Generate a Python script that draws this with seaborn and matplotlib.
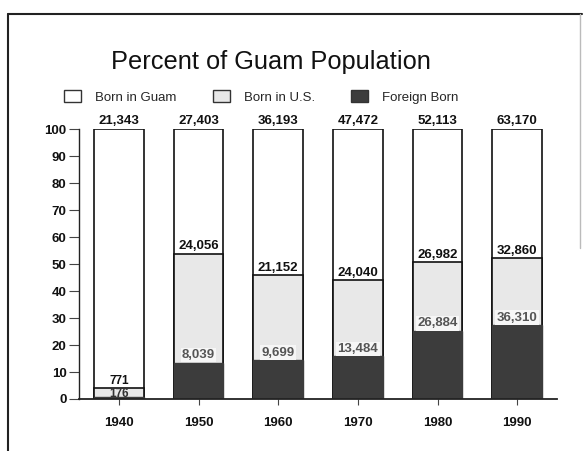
import matplotlib
matplotlib.use("Agg")
import matplotlib.pyplot as plt
from matplotlib.patches import Patch
from matplotlib.lines import Line2D
import numpy as np
import pandas as pd
import seaborn as sns

# Census counts for Guam by place of birth
years = ["1940", "1950", "1960", "1970", "1980", "1990"]
born_guam = [21343, 27403, 36193, 47472, 52113, 63170]
born_us = [771, 24056, 21152, 24040, 26982, 32860]
foreign_born = [176, 8039, 9699, 13484, 26884, 36310]
series_names = ["Born in Guam", "Born in U.S.", "Foreign Born"]
y_ticks = [0, 10, 20, 30, 40, 50, 60, 70, 80, 90, 100]

guam = np.array(born_guam, dtype=float)
us = np.array(born_us, dtype=float)
foreign = np.array(foreign_born, dtype=float)
total = guam + us + foreign
pct_foreign = foreign / total * 100
pct_us_cum = (us + foreign) / total * 100
pct_all = (guam + us + foreign) / total * 100

df = pd.DataFrame({"year": years, "all": pct_all, "us_cum": pct_us_cum,
                   "foreign": pct_foreign})

sns.set_theme(style="white")
plt.rcParams["font.family"] = ["Liberation Sans", "DejaVu Sans"]

fig = plt.figure(figsize=(5.84, 4.51), dpi=100)
ax = fig.add_axes([0.1353, 0.1153, 0.8185, 0.598])

fill_guam = "#ffffff"
fill_us = "#e8e8e8"
fill_foreign = "#3c3c3c"
bar_w = 0.62

sns.barplot(data=df, x="year", y="all", color=fill_guam, width=bar_w,
            edgecolor="#111111", linewidth=1.2, saturation=1, ax=ax)
sns.barplot(data=df, x="year", y="us_cum", color=fill_us, width=bar_w,
            edgecolor="#111111", linewidth=1.2, saturation=1, ax=ax)
sns.barplot(data=df, x="year", y="foreign", color=fill_foreign, width=bar_w,
            edgecolor="#3c3c3c", linewidth=1.0, saturation=1, ax=ax)

ax.set_ylim(0, 100)
ax.set_xlim(-0.5, 5.5)
ax.set_yticks(y_ticks)
ax.set_xlabel("")
ax.set_ylabel("")
for s in ["top", "right"]:
    ax.spines[s].set_visible(False)
ax.spines["left"].set_color("#222222")
ax.spines["left"].set_linewidth(1.0)
ax.spines["bottom"].set_color("#222222")
ax.spines["bottom"].set_linewidth(1.3)
ax.tick_params(axis="y", direction="out", length=7, width=0.8, color="#444444",
               pad=2, labelsize=9.5, labelcolor="#111111", left=True)
ax.tick_params(axis="x", direction="out", length=4, width=0.8, color="#444444",
               pad=9, labelsize=9.5, labelcolor="#111111", bottom=True)
for lbl in ax.get_yticklabels() + ax.get_xticklabels():
    lbl.set_fontweight("bold")

# Count labels on each segment boundary
for i in range(len(years)):
    ax.annotate(f"{born_guam[i]:,}", (i, pct_all[i]), xytext=(0, 2),
                textcoords="offset points", ha="center", va="bottom",
                fontsize=9.5, fontweight="bold", color="#111111",
                annotation_clip=False)
    if i == 0:
        # thin first bar: stack the two small counts around the boundary line
        ax.annotate(f"{born_us[i]:,}", (i, pct_us_cum[i]), xytext=(0, 0.5),
                    textcoords="offset points", ha="center", va="bottom",
                    fontsize=8.5, fontweight="bold", color="#111111")
        ax.annotate(f"{foreign_born[i]:,}", (i, pct_us_cum[i]),
                    xytext=(0, -0.5), textcoords="offset points", ha="center",
                    va="top", fontsize=8.5, fontweight="bold",
                    color="#333333")
        continue
    ax.annotate(f"{born_us[i]:,}", (i, pct_us_cum[i]), xytext=(0, 1),
                textcoords="offset points", ha="center", va="bottom",
                fontsize=9.5, fontweight="bold", color="#111111")
    ax.annotate(f"{foreign_born[i]:,}", (i, pct_foreign[i]), xytext=(0, 1),
                textcoords="offset points", ha="center", va="bottom",
                fontsize=9.5, fontweight="bold", color="#555555",
                bbox=dict(boxstyle="square,pad=0.1", facecolor="#f6f6f6",
                          edgecolor="none"))

fig.text(0.464, 0.862, "Percent of Guam Population", ha="center", va="center",
         fontsize=18.3, color="#111111")

handles = [Patch(facecolor=fill_guam, edgecolor="#333333", linewidth=1.0),
           Patch(facecolor=fill_us, edgecolor="#333333", linewidth=1.0),
           Patch(facecolor=fill_foreign, edgecolor="#333333", linewidth=1.0)]
fig.legend(handles, series_names, loc="center", bbox_to_anchor=(0.448, 0.785),
           ncol=3, frameon=False, fontsize=9.5, handlelength=1.25,
           handleheight=1.05, handletextpad=1.1, columnspacing=2.75)

# Page frame around the chart
frame_kw = dict(transform=fig.transFigure, color="#222222", linewidth=1.5)
fig.add_artist(Line2D([0.0137, 0.0137], [0.0, 0.969], **frame_kw))
fig.add_artist(Line2D([0.0137, 0.9966], [0.969, 0.969], **frame_kw))
fig.add_artist(Line2D([0.9935, 0.9935], [0.45, 0.969], transform=fig.transFigure,
                      color="#bbbbbb", linewidth=1.0))

fig.savefig("out.png", dpi=100)
